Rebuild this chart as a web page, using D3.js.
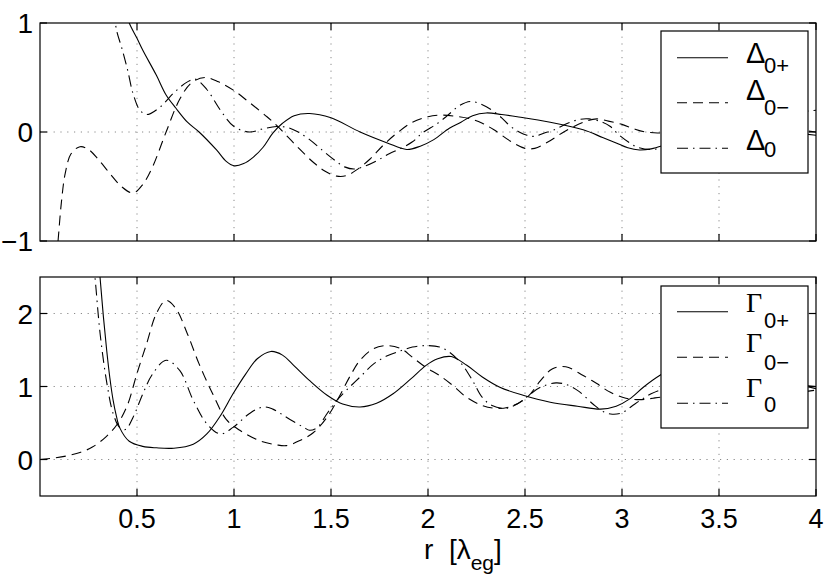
<!DOCTYPE html>
<html><head><meta charset="utf-8">
<script src="https://cdn.jsdelivr.net/npm/d3@7"></script>
<style>body{margin:0;background:#fff}svg{display:block}</style>
</head><body><svg id="c" width="830" height="585"></svg>
<script>
// ---- data (r in units of lambda_eg) ----
const xTickVals = [0.5, 1, 1.5, 2, 2.5, 3, 3.5, 4];
const xTickLabels = ["0.5", "1", "1.5", "2", "2.5", "3", "3.5", "4"];
const topYTicks = [-1, 0, 1];
const botYTicks = [0, 1, 2];

const deltaPlus = [[0.44,1.12],[0.46,1.0],[0.50,0.86],[0.53,0.75],[0.60,0.52],[0.65,0.34],[0.70,0.22],[0.76,0.09],[0.82,0.0],[0.91,-0.165],[0.96,-0.27],[1.0,-0.31],[1.05,-0.29],[1.10,-0.23],[1.15,-0.14],[1.20,-0.01],[1.25,0.08],[1.31,0.15],[1.39,0.17],[1.50,0.13],[1.65,0.0],[1.79,-0.10],[1.89,-0.16],[1.96,-0.13],[2.03,-0.07],[2.11,0.035],[2.17,0.09],[2.23,0.15],[2.30,0.175],[2.38,0.16],[2.46,0.14],[2.63,0.09],[2.80,0.02],[2.90,-0.05],[2.97,-0.10],[3.03,-0.145],[3.09,-0.165],[3.15,-0.155],[3.22,-0.12],[3.35,-0.04],[3.5,0.04],[3.65,0.05],[3.8,0.01],[4.0,-0.03]];
const deltaMinus = [[0.085,-1.15],[0.093,-1.0],[0.11,-0.65],[0.13,-0.38],[0.16,-0.2],[0.206,-0.135],[0.25,-0.16],[0.30,-0.25],[0.36,-0.38],[0.42,-0.50],[0.48,-0.56],[0.53,-0.48],[0.58,-0.32],[0.65,0.0],[0.72,0.30],[0.78,0.45],[0.85,0.50],[0.92,0.46],[1.0,0.38],[1.08,0.27],[1.17,0.14],[1.22,0.06],[1.28,-0.05],[1.34,-0.16],[1.41,-0.28],[1.47,-0.36],[1.53,-0.405],[1.58,-0.40],[1.63,-0.35],[1.70,-0.25],[1.77,-0.12],[1.84,-0.01],[1.92,0.09],[2.0,0.14],[2.07,0.155],[2.14,0.145],[2.22,0.12],[2.28,0.08],[2.34,0.02],[2.43,-0.09],[2.50,-0.15],[2.55,-0.15],[2.62,-0.09],[2.70,0.0],[2.80,0.09],[2.87,0.12],[2.93,0.10],[3.0,0.07],[3.06,0.03],[3.12,0.0],[3.2,-0.01],[3.35,-0.04],[3.5,0.02],[3.7,0.05],[3.85,0.03],[4.0,0.0]];
const deltaZero = [[0.38,1.12],[0.395,0.93],[0.42,0.78],[0.45,0.58],[0.48,0.35],[0.515,0.20],[0.55,0.16],[0.62,0.23],[0.69,0.36],[0.76,0.46],[0.80,0.485],[0.86,0.39],[0.93,0.20],[1.0,0.05],[1.08,0.0],[1.15,0.03],[1.22,0.05],[1.28,0.04],[1.33,0.0],[1.39,-0.07],[1.45,-0.16],[1.52,-0.26],[1.57,-0.32],[1.62,-0.34],[1.68,-0.31],[1.74,-0.26],[1.80,-0.20],[1.86,-0.15],[1.92,-0.09],[1.97,-0.01],[2.05,0.08],[2.10,0.15],[2.16,0.24],[2.22,0.28],[2.28,0.25],[2.33,0.20],[2.38,0.13],[2.42,0.06],[2.47,0.0],[2.51,-0.03],[2.55,-0.04],[2.60,-0.01],[2.65,0.02],[2.72,0.08],[2.78,0.115],[2.83,0.12],[2.90,0.09],[2.94,0.05],[2.98,-0.02],[3.04,-0.10],[3.08,-0.14],[3.15,-0.16],[3.22,-0.14],[3.35,-0.05],[3.5,0.06],[3.7,0.13],[3.9,0.18],[4.0,0.2]];

const gammaPlus = [[0.30,2.75],[0.31,2.48],[0.327,1.95],[0.344,1.49],[0.36,1.12],[0.377,0.81],[0.395,0.58],[0.41,0.44],[0.46,0.25],[0.53,0.18],[0.60,0.16],[0.69,0.155],[0.79,0.21],[0.86,0.35],[0.93,0.60],[0.995,0.90],[1.06,1.17],[1.12,1.38],[1.19,1.48],[1.25,1.43],[1.30,1.31],[1.39,1.08],[1.48,0.88],[1.56,0.76],[1.65,0.72],[1.735,0.77],[1.82,0.90],[1.91,1.10],[1.99,1.29],[2.05,1.38],[2.12,1.41],[2.20,1.29],[2.28,1.13],[2.37,0.99],[2.49,0.88],[2.63,0.785],[2.77,0.73],[2.89,0.69],[2.97,0.73],[3.04,0.83],[3.11,0.99],[3.20,1.16],[3.3,1.3],[3.45,1.35],[3.6,1.25],[3.8,1.1],[4.0,0.97]];
const gammaMinus = [[0.0,0.0],[0.07,0.02],[0.14,0.05],[0.21,0.10],[0.27,0.17],[0.34,0.31],[0.40,0.49],[0.45,0.74],[0.50,1.18],[0.55,1.59],[0.60,2.0],[0.65,2.18],[0.70,2.07],[0.76,1.72],[0.82,1.31],[0.89,0.90],[0.96,0.55],[1.03,0.40],[1.13,0.26],[1.22,0.20],[1.27,0.19],[1.34,0.26],[1.41,0.37],[1.48,0.58],[1.54,0.85],[1.60,1.15],[1.65,1.36],[1.72,1.52],[1.79,1.56],[1.86,1.52],[1.92,1.40],[1.99,1.26],[2.06,1.15],[2.13,1.01],[2.20,0.85],[2.28,0.74],[2.35,0.70],[2.42,0.72],[2.51,0.85],[2.58,1.08],[2.64,1.24],[2.71,1.27],[2.80,1.15],[2.87,1.04],[2.94,0.92],[3.02,0.84],[3.09,0.82],[3.16,0.84],[3.25,0.88],[3.4,1.0],[3.6,1.1],[3.8,1.05],[4.0,1.0]];
const gammaZero = [[0.275,2.7],[0.284,2.48],[0.31,1.72],[0.345,1.04],[0.377,0.63],[0.41,0.44],[0.44,0.41],[0.48,0.58],[0.53,0.90],[0.58,1.17],[0.65,1.36],[0.72,1.22],[0.79,0.81],[0.86,0.49],[0.93,0.35],[0.995,0.44],[1.08,0.63],[1.15,0.72],[1.20,0.69],[1.24,0.63],[1.30,0.53],[1.36,0.44],[1.39,0.40],[1.43,0.44],[1.48,0.63],[1.53,0.81],[1.58,0.95],[1.65,1.13],[1.72,1.31],[1.79,1.42],[1.86,1.49],[1.92,1.54],[1.99,1.56],[2.06,1.54],[2.11,1.47],[2.17,1.32],[2.23,1.08],[2.28,0.85],[2.33,0.74],[2.40,0.70],[2.46,0.76],[2.52,0.88],[2.58,0.99],[2.66,1.05],[2.72,1.02],[2.78,0.93],[2.85,0.76],[2.90,0.66],[2.95,0.62],[3.0,0.64],[3.05,0.73],[3.10,0.82],[3.15,0.90],[3.22,0.97],[3.4,1.05],[3.6,0.95],[3.8,0.9],[4.0,0.95]];

const topSeries = [
  {name:"Δ", sub:"0+", data:deltaPlus, dash:null},
  {name:"Δ", sub:"0−", data:deltaMinus, dash:"10,6"},
  {name:"Δ", sub:"0", data:deltaZero, dash:"11,5,1.5,5"}
];
const botSeries = [
  {name:"Γ", sub:"0+", data:gammaPlus, dash:null},
  {name:"Γ", sub:"0−", data:gammaMinus, dash:"10,6"},
  {name:"Γ", sub:"0", data:gammaZero, dash:"11,5,1.5,5"}
];

// ---- layout ----
const svg = d3.select("#c");
const L = 40, R = 816;
const x = d3.scaleLinear().domain([0, 4]).range([L, R]);
const font = "'Liberation Sans', Arial, Helvetica, sans-serif";

function panel(id, top, bottom, ydom, yticks, series, legend) {
  const y = d3.scaleLinear().domain(ydom).range([bottom, top]);
  const g = svg.append("g");
  g.append("clipPath").attr("id", "clip" + id).append("rect")
    .attr("x", L).attr("y", top).attr("width", R - L).attr("height", bottom - top);
  // grid
  const grid = g.append("g").attr("stroke", "#8a8a8a").attr("stroke-width", 1).attr("stroke-dasharray", "1.2,5.6");
  xTickVals.filter(v => v < 4).forEach(v => grid.append("line")
    .attr("x1", x(v)).attr("x2", x(v)).attr("y1", top).attr("y2", bottom));
  yticks.filter(v => y(v) > top + 1 && y(v) < bottom - 1).forEach(v => grid.append("line")
    .attr("x1", L).attr("x2", R).attr("y1", y(v)).attr("y2", y(v)));
  // curves
  const line = d3.line().x(d => x(d[0])).y(d => y(d[1])).curve(d3.curveCatmullRom.alpha(0.5));
  const cg = g.append("g").attr("clip-path", `url(#clip${id})`);
  series.forEach(s => cg.append("path").attr("d", line(s.data)).attr("fill", "none")
    .attr("stroke", "#000").attr("stroke-width", 1.1).attr("stroke-dasharray", s.dash));
  // axes (ticks inside on all four sides)
  const tl = 7;
  const ax = g.append("g").attr("stroke", "#000").attr("stroke-width", 1.2);
  xTickVals.forEach(v => {
    ax.append("line").attr("x1", x(v)).attr("x2", x(v)).attr("y1", bottom).attr("y2", bottom - tl);
    ax.append("line").attr("x1", x(v)).attr("x2", x(v)).attr("y1", top).attr("y2", top + tl);
  });
  yticks.forEach(v => {
    ax.append("line").attr("x1", L).attr("x2", L + tl).attr("y1", y(v)).attr("y2", y(v));
    ax.append("line").attr("x1", R).attr("x2", R - tl).attr("y1", y(v)).attr("y2", y(v));
  });
  ax.append("rect").attr("x", L).attr("y", top).attr("width", R - L).attr("height", bottom - top).attr("fill", "none");
  // y tick labels
  yticks.forEach(v => g.append("text").attr("x", 33).attr("y", y(v)).attr("dy", "0.36em")
    .attr("text-anchor", "end").attr("font-family", font).attr("font-size", 28)
    .text(v < 0 ? "−" + Math.abs(v) : String(v)));
  // legend
  const lg = g.append("g");
  lg.append("rect").attr("x", legend.x).attr("y", legend.y).attr("width", legend.w).attr("height", legend.h)
    .attr("fill", "#fff").attr("stroke", "#000").attr("stroke-width", 1.2);
  series.forEach((s, i) => {
    const ly = legend.rows[i];
    lg.append("line").attr("x1", legend.x + 16).attr("x2", legend.x + 67).attr("y1", ly).attr("y2", ly)
      .attr("stroke", "#000").attr("stroke-width", 1.1).attr("stroke-dasharray", s.dash);
    lg.append("text").attr("x", legend.x + 85).attr("y", legend.base[i])
      .attr("font-family", legend.symFont).attr("font-size", legend.symSize).text(s.name);
    lg.append("text").attr("x", legend.x + 103).attr("y", legend.subBase[i])
      .attr("font-family", font).attr("font-size", 22).text(s.sub);
  });
  return y;
}

panel("t", 23, 241, [-1, 1], topYTicks, topSeries,
  {x:661, y:31, w:147, h:142, rows:[57.7,102.7,148.3], base:[63,100,150], subBase:[73,115,157],
   symFont: font, symSize: 29});
panel("b", 277, 496, [-0.5, 2.5], botYTicks, botSeries,
  {x:661, y:286, w:147, h:142, rows:[311.7,357.3,403.3], base:[312,352,397], subBase:[328,370,411.7],
   symFont: "'Liberation Serif', 'Times New Roman', serif", symSize: 28});

// x tick labels (bottom panel only)
xTickVals.forEach((v, i) => svg.append("text").attr("x", x(v)).attr("y", 528)
  .attr("text-anchor", "middle").attr("font-family", font).attr("font-size", 27).text(xTickLabels[i]));

// x axis label
const xl = svg.append("text").attr("x", 424).attr("y", 559).attr("font-family", font).attr("font-size", 28);
xl.append("tspan").text("r\u00a0\u00a0[λ");
xl.append("tspan").attr("font-size", 21).attr("dy", 11).text("eg");
xl.append("tspan").attr("dy", -11).text("]");
</script></body></html>
